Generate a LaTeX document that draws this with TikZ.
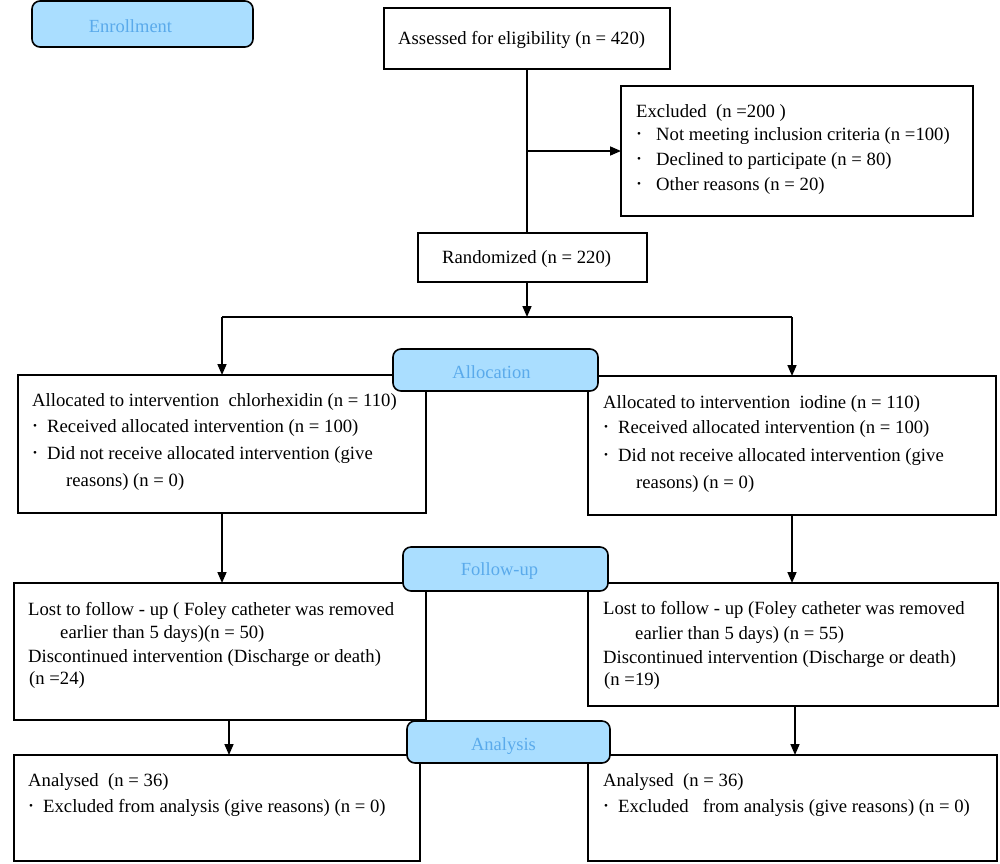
\documentclass[tikz,border=0pt]{standalone}
\usepackage{fontspec}
\setmainfont{Liberation Serif}
\usetikzlibrary{arrows.meta,calc}
\definecolor{lblfill}{RGB}{170,222,255}
\definecolor{lbltext}{RGB}{90,170,235}
\newcommand\bul{\raisebox{0.3ex}{\scalebox{0.6}{•}}}
\newcommand\tline[4]{\node[txt] (#1) at (#2,#3) {#4};}
\newcommand\bx[6]{\node[box,minimum width=#4pt-#2pt,minimum height=#5pt-#3pt,anchor=north west,#6] (#1) at (#2,#3) {};}
\begin{document}
\begin{tikzpicture}[x=1pt,y=-1pt,
 box/.style={draw,line width=1.6pt,inner sep=0pt,outer sep=0pt},
 lbl/.style={box,fill=lblfill,rounded corners=8pt},
 lbltxt/.style={inner sep=0pt,text=lbltext,font=\fontsize{18.5}{21}\selectfont},
 txt/.style={anchor=base west,inner sep=0pt,font=\fontsize{18.7}{21}\selectfont},
 arr/.style={line width=1.6pt,-{Triangle[length=11pt,width=9pt]}},
 ln/.style={line width=1.6pt}]
\useasboundingbox (0,0) rectangle (1000,863);
% boxes
\bx{assess}{384}{8}{670}{69}{}
\bx{excl}{621}{86}{973}{216}{}
\bx{rand}{418}{233}{647}{282}{}
\bx{la}{18}{375}{426}{513}{}
\bx{ra}{588}{376}{996}{515}{}
\bx{lf}{14}{583}{426}{720}{}
\bx{rf}{588}{583}{998}{706}{}
\bx{lan}{14}{755}{420}{861}{}
\bx{ran}{588}{755}{997}{861}{}
% connectors
\coordinate (junc) at ($(assess.south)!0.5!(assess.south |- rand.north)$);
\draw[ln] (assess.south) -- (assess.south |- rand.north);
\draw[arr] (junc -| assess.south) -- (junc -| excl.west);
\coordinate (split) at ($(assess.south |- rand.south)+(0,35)$);
\draw[arr] (assess.south |- rand.south) -- (split);
\draw[ln] (split -| la.north) -- (split -| ra.north);
\draw[arr] (split -| la.north) -- (la.north);
\draw[arr] (split -| ra.north) -- (ra.north);
\draw[arr] (la.south) -- (la.south |- lf.north);
\draw[arr] (ra.south) -- (ra.south |- rf.north);
\coordinate (lfa) at ($(lf.south)+(9,0)$);
\draw[arr] (lfa) -- (lfa |- lan.north);
\coordinate (rfa) at ($(rf.south)+(2,0)$);
\draw[arr] (rfa) -- (rfa |- ran.north);
% labels
\bx{enr}{32}{1}{253}{47}{lbl}
\bx{alloc}{393}{349}{598}{391}{lbl}
\bx{foll}{403}{547}{608}{591}{lbl}
\bx{anal}{407}{721}{610}{763}{lbl}
\node[lbltxt] (enrt) at ($(enr.center)+(-12,2)$) {Enrollment};
\node[lbltxt] (alloct) at ($(alloc.center)+(-4,2)$) {Allocation};
\node[lbltxt] (follt) at ($(foll.center)+(-6,2)$) {Follow-up};
\node[lbltxt] (analt) at ($(anal.center)+(-5,4)$) {Analysis};
% texts
\tline{t1}{398}{44}{Assessed for eligibility (n = 420)}
\tline{t2}{636}{117}{Excluded\ \ (n =200 )}
\tline{t3}{637}{140}{\makebox[19pt][l]{\bul}Not meeting inclusion criteria (n =100)}
\tline{t4}{637}{165}{\makebox[19pt][l]{\bul}Declined to participate (n = 80)}
\tline{t5}{637}{190}{\makebox[19pt][l]{\bul}Other reasons (n = 20)}
\tline{t6}{442}{263}{Randomized (n = 220)}
\tline{t7}{32}{406}{Allocated to intervention\ \ chlorhexidin (n = 110)}
\tline{t8}{33}{432}{\makebox[14pt][l]{\bul}Received allocated intervention (n = 100)}
\tline{t9}{33}{459}{\makebox[14pt][l]{\bul}Did not receive allocated intervention (give}
\tline{t10}{66}{486}{reasons) (n = 0)}
\tline{t11}{603}{408}{Allocated to intervention\ \ iodine (n = 110)}
\tline{t12}{604}{433}{\makebox[14pt][l]{\bul}Received allocated intervention (n = 100)}
\tline{t13}{604}{461}{\makebox[14pt][l]{\bul}Did not receive allocated intervention (give}
\tline{t14}{636}{488}{reasons) (n = 0)}
\tline{t15}{28}{615}{Lost to follow - up ( Foley catheter was removed}
\tline{t16}{60}{638}{earlier than 5 days)(n = 50)}
\tline{t17}{28}{662}{Discontinued intervention (Discharge or death)}
\tline{t18}{29}{684}{(n =24)}
\tline{t19}{603}{614}{Lost to follow - up (Foley catheter was removed}
\tline{t20}{635}{639}{earlier than 5 days) (n = 55)}
\tline{t21}{603}{663}{Discontinued intervention (Discharge or death)}
\tline{t22}{604}{685}{(n =19)}
\tline{t23}{28}{786}{Analysed\ \ (n = 36)}
\tline{t24}{29}{812}{\makebox[14pt][l]{\bul}Excluded from analysis (give reasons) (n = 0)}
\tline{t25}{603}{786}{Analysed\ \ (n = 36)}
\tline{t26}{604}{812}{\makebox[14pt][l]{\bul}Excluded\ \ \ from analysis (give reasons) (n = 0)}
\end{tikzpicture}
\end{document}
